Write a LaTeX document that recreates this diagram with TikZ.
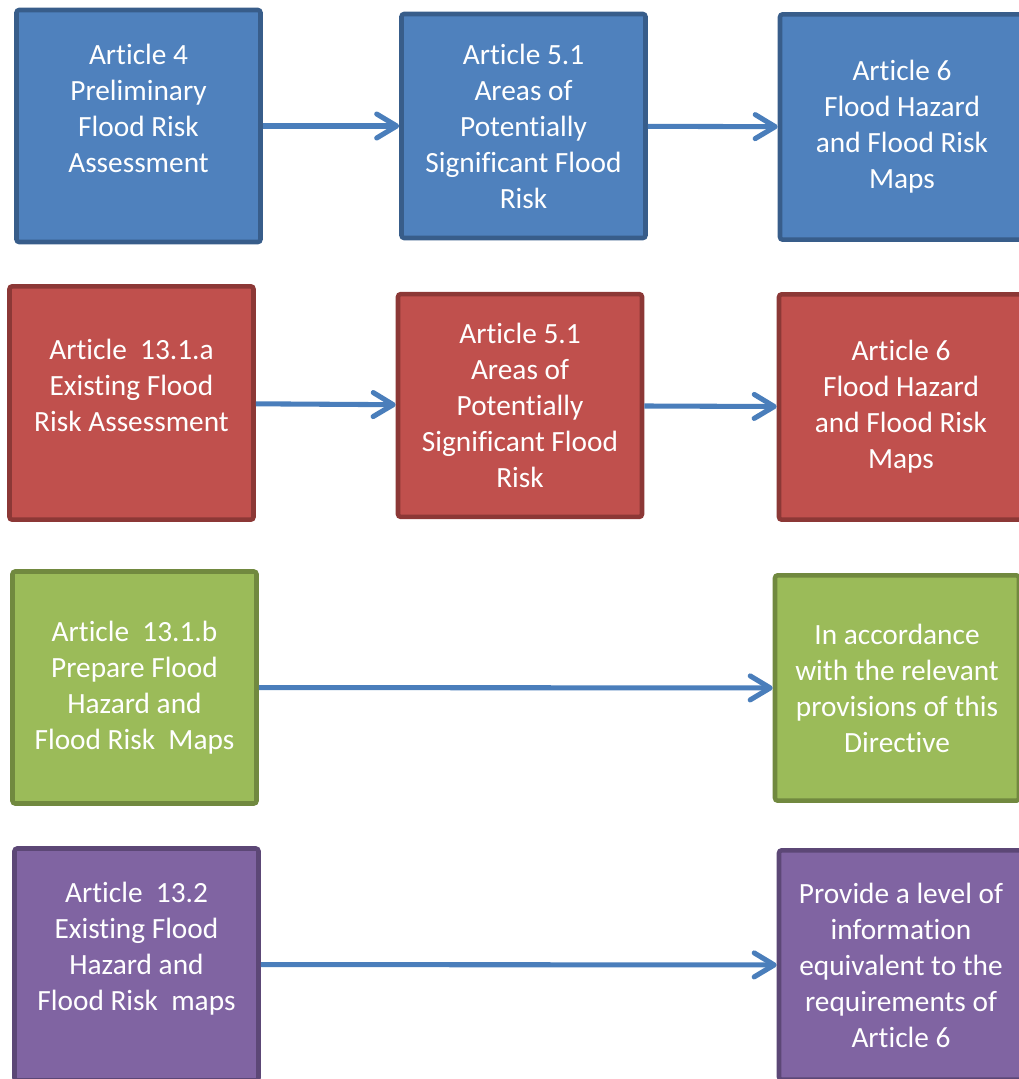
\documentclass[tikz,border=0pt]{standalone}
\usepackage{fontspec}
\setmainfont[Ligatures={NoCommon,NoRare,NoContextual}]{Carlito}
\usetikzlibrary{arrows.meta, positioning}
\definecolor{colorBlue}{HTML}{4F81BD}
\definecolor{borderBlue}{HTML}{385D8A}
\definecolor{colorRed}{HTML}{C0504D}
\definecolor{borderRed}{HTML}{8C3836}
\definecolor{colorGreen}{HTML}{9BBB59}
\definecolor{borderGreen}{HTML}{71893F}
\definecolor{colorPurple}{HTML}{8064A2}
\definecolor{borderPurple}{HTML}{5C4776}
\definecolor{colorArrow}{HTML}{4A7EBB}

\begin{document}
\begin{tikzpicture}[
        x=0.75pt, y=-0.75pt,
        s/.style={line width=3.4pt, rounded corners=2pt, text=white, align=center,
            minimum width=183pt, minimum height=174pt, inner sep=0pt,
            font=\fontsize{22}{27}\selectfont},
        sblue/.style={s, draw=borderBlue, fill=colorBlue},
        sred/.style={s, draw=borderRed, fill=colorRed},
        sgreen/.style={s, draw=borderGreen, fill=colorGreen},
        spurple/.style={s, draw=borderPurple, fill=colorPurple},
        rel/.style={-{Straight Barb[length=15pt, width=18pt, round]}, colorArrow,
            line width=3.8pt}
    ]
        \useasboundingbox (0,0) rectangle (1019,1079);
        \clip (0,0) rectangle (1019,1079);
        % preliminary assessment
        \node[sblue] (a4) at (138.5,126) {Article 4\\Preliminary\\Flood Risk\\Assessment\\~};
        \node[sblue, minimum height=168pt] (a51) at (523.5,126) {Article 5.1\\Areas of\\Potentially\\Significant Flood\\Risk};
        \node[sblue, minimum height=169pt] (a6) at (902,127) {Article 6\\Flood Hazard\\and Flood Risk\\Maps};
        % existing assessment
        \node[sred, minimum height=175pt] (e13a) at (131.5,403) {Article~~13.1.a\\Existing Flood\\Risk Assessment\\~};
        \node[sred, minimum height=167pt] (e51) at (520,405.5) {Article 5.1\\Areas of\\Potentially\\Significant Flood\\Risk};
        \node[sred, minimum height=169pt] (e6) at (901,407) {Article 6\\Flood Hazard\\and Flood Risk\\Maps};
        % prepare maps
        \node[sgreen] (p13b) at (134.5,687.5) {Article~~13.1.b\\Prepare Flood\\Hazard and\\Flood Risk~~Maps};
        \node[sgreen, minimum height=169pt] (pdir) at (897,688) {In accordance\\with the relevant\\provisions of this\\Directive};
        % existing maps
        \node[spurple] (m132) at (136.5,964.5) {Article~~13.2\\Existing Flood\\Hazard and\\Flood Risk~~maps\\~};
        \node[spurple, minimum height=172pt] (minfo) at (901,965) {Provide a level of\\information\\equivalent to the\\requirements of\\Article 6};
        \draw[rel] (a4)--(a51); \draw[rel] (a51)--(a6);
        \draw[rel] (e13a)--(e51); \draw[rel] (e51)--(e6);
        \draw[rel] (p13b)--(pdir);
        \draw[rel] (m132)--(minfo);
    \end{tikzpicture}
\end{document}
